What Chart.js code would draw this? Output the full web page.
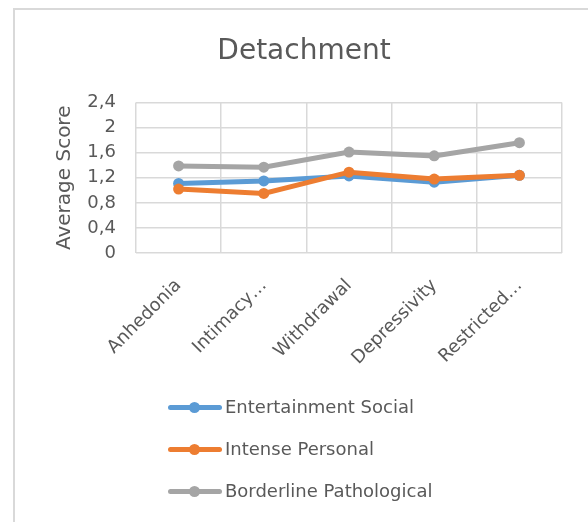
<!DOCTYPE html>
<html>
<head>
<meta charset="utf-8">
<script src="https://cdn.jsdelivr.net/npm/chart.js@4.4.1/dist/chart.umd.min.js"></script>
<style>
    html, body { margin: 0; padding: 0; background: #fff; overflow: hidden; }
    #wrap { position: relative; width: 588px; height: 522px; }
    #frame {
        position: absolute; left: 13px; top: 8px; width: 620px; height: 620px;
        border: 2px solid #d9d9d9; box-sizing: border-box;
    }
    #chart { position: absolute; left: 0; top: 0; }
    #legend { position: absolute; left: 168px; top: 393px; font-family: "DejaVu Sans", sans-serif; }
    .item { position: relative; height: 42px; }
    .item .ln { position: absolute; left: 0; top: 12px; width: 54px; height: 5px; border-radius: 3px; }
    .item .dot { position: absolute; left: 21px; top: 9px; width: 11px; height: 11px; border-radius: 50%; }
    .item .tx { position: absolute; left: 57px; top: 0; font-size: 18px; color: #595959; white-space: nowrap; line-height: 28px; }
</style>
</head>
<body>
<div id="wrap">
    <div id="frame"></div>
    <canvas id="chart" width="588" height="522"></canvas>
    <div id="legend"></div>
</div>
<script>
// categories and series
const categories = ["Anhedonia", "Intimacy…", "Withdrawal", "Depressivity", "Restricted…"];
const seriesNames = ["Entertainment Social", "Intense Personal", "Borderline Pathological"];
const entertainmentSocial = [1.11, 1.15, 1.23, 1.13, 1.24];
const intensePersonal = [1.02, 0.95, 1.29, 1.18, 1.24];
const borderlinePathological = [1.39, 1.37, 1.61, 1.55, 1.76];
const yTickLabels = ["0", "0,4", "0,8", "1,2", "1,6", "2", "2,4"];
const colors = ["#5B9BD5", "#ED7D31", "#A5A5A5"];

const textColor = "#595959";
const gridColor = "#d9d9d9";
const font = "DejaVu Sans";

function series(label, data, color, order) {
    return {
        label: label,
        data: data,
        borderColor: color,
        backgroundColor: color,
        borderWidth: 5,
        pointRadius: 5.5,
        pointHoverRadius: 5.5,
        pointBorderWidth: 0,
        tension: 0,
        order: order
    };
}

new Chart(document.getElementById("chart"), {
    type: "line",
    data: {
        labels: categories,
        datasets: [
            series(seriesNames[0], entertainmentSocial, colors[0], 1),
            series(seriesNames[1], intensePersonal, colors[1], 0),
            series(seriesNames[2], borderlinePathological, colors[2], 2)
        ]
    },
    options: {
        responsive: false,
        animation: false,
        layout: { padding: { left: 20, right: 0, top: 0, bottom: 0 } },
        plugins: {
            legend: { display: false },
            tooltip: { enabled: false },
            title: {
                display: true,
                text: "Detachment",
                color: textColor,
                font: { family: font, size: 28, weight: "normal" },
                padding: { top: 35, bottom: 34 }
            }
        },
        scales: {
            x: {
                offset: true,
                grid: { color: gridColor, lineWidth: 1.5, offset: true, drawTicks: false },
                border: { display: false },
                ticks: {
                    color: textColor,
                    font: { family: font, size: 18 },
                    minRotation: 45,
                    maxRotation: 45,
                    padding: 22,
                    autoSkip: false
                },
                afterFit: (s) => { s.height = 269; }
            },
            y: {
                min: 0,
                max: 2.4,
                grid: { color: gridColor, lineWidth: 1.5, drawTicks: false },
                border: { display: false },
                ticks: {
                    stepSize: 0.4,
                    color: textColor,
                    font: { family: font, size: 18 },
                    padding: 20,
                    callback: (v, i) => yTickLabels[i]
                },
                title: {
                    display: true,
                    text: "Average Score",
                    color: textColor,
                    font: { family: font, size: 20 },
                    padding: { top: 33, bottom: 0 }
                },
                afterFit: (s) => { s.width = 116; }
            },
            // empty right margin so the plot ends short of the canvas edge
            gap: {
                position: "right",
                grid: { display: false },
                border: { display: false },
                ticks: { display: false },
                afterFit: (s) => { s.width = 26; }
            }
        }
    }
});

// legend: line sample with a marker, then the series name
const legend = document.getElementById("legend");
seriesNames.forEach((name, i) => {
    const item = document.createElement("div");
    item.className = "item";
    item.innerHTML = '<div class="ln" style="background:' + colors[i] + '"></div>' +
        '<div class="dot" style="background:' + colors[i] + '"></div>' +
        '<div class="tx">' + name + '</div>';
    legend.appendChild(item);
});
</script>
</body>
</html>
